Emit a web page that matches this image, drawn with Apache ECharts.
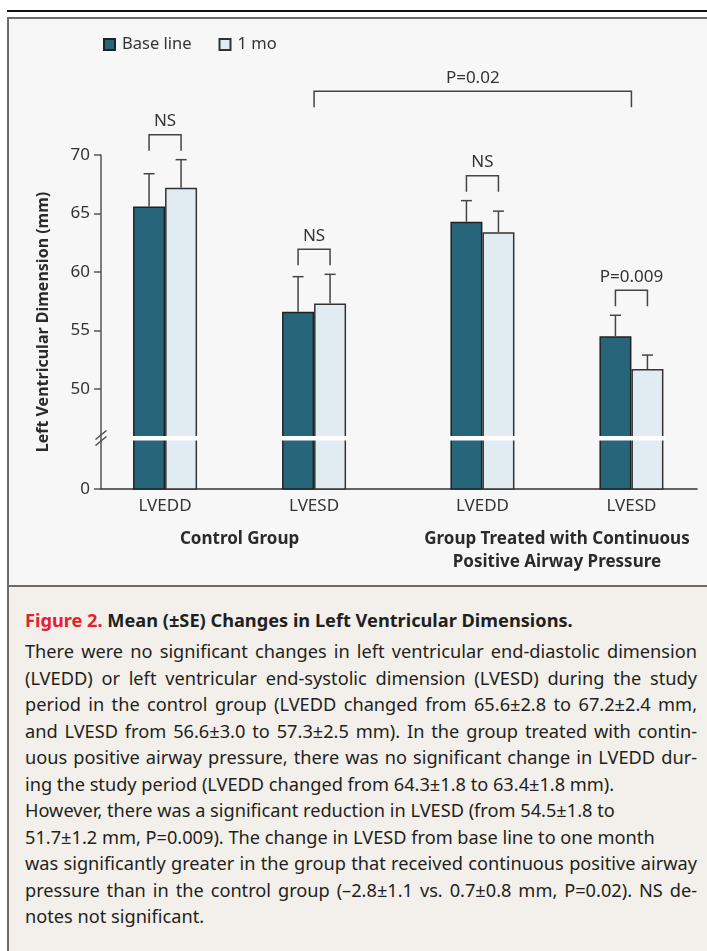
<!DOCTYPE html>
<html>
<head>
<meta charset="utf-8">
<script src="https://cdn.jsdelivr.net/npm/echarts@6/dist/echarts.min.js"></script>
<style>
  html, body { margin: 0; padding: 0; width: 707px; height: 951px; overflow: hidden; background: #ffffff; }
  #topline { position: absolute; left: 7px; top: 10px; width: 700px; height: 1.5px; background: #111; }
  #panel { position: absolute; left: 7px; top: 17px; width: 700px; height: 570px; background: #f7f7f7;
           border-top: 2px solid #6a6a6a; border-left: 2px solid #6a6a6a; border-bottom: 2px solid #6a6a6a; box-sizing: border-box; }
  #capbox { position: absolute; left: 7px; top: 587px; width: 700px; height: 364px; background: #f3efea;
            border-left: 2px solid #6a6a6a; box-sizing: border-box; }
  #chart { position: absolute; left: 0; top: 0; width: 707px; height: 590px; }
  #caption { position: absolute; left: 25px; top: 607px; width: 672px; font-family: 'Noto Sans', sans-serif; color: #231f20; }
  #caption .title { font-weight: bold; font-size: 18.2px; line-height: 26px; height: 31px; white-space: nowrap; }
  #caption .fig { color: #e5202e; }
  #caption .ln { font-size: 18.2px; line-height: 26.5px; height: 26.5px; white-space: nowrap; }
  #caption .j { text-align: justify; text-align-last: justify; }
</style>
</head>
<body>
<div id="topline"></div>
<div id="panel"></div>
<div id="capbox"></div>
<div id="chart"></div>
<div id="caption">
  <div class="title"><span class="fig">Figure 2.</span> Mean (±SE) Changes in Left Ventricular Dimensions.</div>
  <div class="ln j">There were no significant changes in left ventricular end-diastolic dimension</div>
  <div class="ln j">(LVEDD) or left ventricular end-systolic dimension (LVESD) during the study</div>
  <div class="ln j">period in the control group (LVEDD changed from 65.6±2.8 to 67.2±2.4 mm,</div>
  <div class="ln j">and LVESD from 56.6±3.0 to 57.3±2.5 mm). In the group treated with contin-</div>
  <div class="ln j">uous positive airway pressure, there was no significant change in LVEDD dur-</div>
  <div class="ln">ing the study period (LVEDD changed from 64.3±1.8 to 63.4±1.8 mm).</div>
  <div class="ln">However, there was a significant reduction in LVESD (from 54.5±1.8 to</div>
  <div class="ln">51.7±1.2 mm, P=0.009). The change in LVESD from base line to one month</div>
  <div class="ln j">was significantly greater in the group that received continuous positive airway</div>
  <div class="ln j">pressure than in the control group (–2.8±1.1 vs. 0.7±0.8 mm, P=0.02). NS de-</div>
  <div class="ln">notes not significant.</div>
</div>
<script>
// ---------- data ----------
const categories = ['LVEDD', 'LVESD', 'LVEDD', 'LVESD'];
const groupNames = ['Control Group', 'Group Treated with Continuous\nPositive Airway Pressure'];
const seriesNames = ['Base line', '1 mo'];
const baseMean = [65.6, 56.6, 64.3, 54.5];
const baseSE   = [2.8, 3.0, 1.8, 1.8];
const moMean   = [67.2, 57.3, 63.4, 51.7];
const moSE     = [2.4, 2.5, 1.8, 1.2];
const pairLabels = ['NS', 'NS', 'NS', 'P=0.009'];
const yTicks = [50, 55, 60, 65, 70];
const groupCompare = { from: 1, to: 3, label: 'P=0.02', level: 75.45 };

// ---------- layout (axis slots, not data) ----------
const catPos = [0.43, 1.43, 2.56, 3.56];
const groupPos = [0.93, 3.06];
const axisFloor = 41.45;   // bottom of broken axis, labelled "0"
const breakAt = 45.8;      // where the axis break is drawn
const barW = 32;
const darkFill = '#26657a', lightFill = '#e1ebf2', ink = '#444';

// fix caption lines that overflow
document.querySelectorAll('#caption .ln, #caption .title').forEach(el => {
  const over = el.scrollWidth - el.clientWidth;
  if (over > 0) el.style.letterSpacing = (-(over + 1) / el.textContent.length) + 'px';
});

const chart = echarts.init(document.getElementById('chart'), null, { renderer: 'canvas' });

function nearestIdx(arr, v) {
  let b = 0; for (let i = 1; i < arr.length; i++) if (Math.abs(arr[i] - v) < Math.abs(arr[b] - v)) b = i; return b;
}

function errRender(sign) {
  return function (params, api) {
    const x = api.value(0), m = api.value(1), se = api.value(2);
    const p0 = api.coord([x, m]), p1 = api.coord([x, m + se]);
    const cx = p0[0] + sign * barW / 2;
    return { type: 'group', children: [
      { type: 'line', shape: { x1: cx, y1: p0[1], x2: cx, y2: p1[1] }, style: { stroke: ink, lineWidth: 1.5 } },
      { type: 'line', shape: { x1: cx - 5.5, y1: p1[1], x2: cx + 5.5, y2: p1[1] }, style: { stroke: ink, lineWidth: 1.5 } }
    ]};
  };
}

const option = {
  animation: false,
  textStyle: { fontFamily: 'Noto Sans' },
  legend: {
    data: seriesNames, left: 103, top: 36, padding: 0, itemWidth: 11, itemHeight: 11, itemGap: 27, icon: 'rect',
    textStyle: { fontSize: 16.5, color: '#333', fontFamily: 'Noto Sans', padding: [0, 0, 0, 2] }
  },
  grid: { left: 101, right: 10, top: 155, bottom: 590 - 489 },
  xAxis: [
    { type: 'value', min: 0, max: 4, position: 'bottom',
      axisLine: { show: true, lineStyle: { color: '#333', width: 1.5 } },
      axisTick: { show: false }, splitLine: { show: false },
      axisLabel: { customValues: catPos, formatter: v => categories[nearestIdx(catPos, v)],
                   fontSize: 17, color: '#333', margin: 9 } },
    { type: 'value', min: 0, max: 4, position: 'bottom', offset: 31,
      axisLine: { show: false }, axisTick: { show: false }, splitLine: { show: false },
      axisLabel: { customValues: groupPos, formatter: v => groupNames[nearestIdx(groupPos, v)],
                   fontSize: 17, fontWeight: 'bold', color: '#2a2a2a', lineHeight: 23, margin: 8, align: 'center' } }
  ],
  yAxis: {
    type: 'value', min: axisFloor, max: 70,
    name: 'Left Ventricular Dimension (mm)', nameLocation: 'middle', nameGap: 50,
    nameTextStyle: { fontSize: 16, fontWeight: 'bold', color: '#2a2a2a' },
    axisLine: { show: true, lineStyle: { color: '#555', width: 1.5 } },
    axisTick: { show: true, length: 7, customValues: [axisFloor].concat(yTicks), lineStyle: { color: '#555', width: 1.5 } },
    axisLabel: { customValues: [axisFloor].concat(yTicks),
                 formatter: v => (Math.abs(v - axisFloor) < 1e-6 ? '0' : String(v)),
                 fontSize: 17, color: '#333', margin: 11 },
    splitLine: { show: false }
  },
  series: [
    { type: 'bar', name: seriesNames[0], xAxisIndex: 0, barWidth: barW, barGap: '0%',
      data: catPos.map((x, i) => [x, baseMean[i]]),
      itemStyle: { color: darkFill, borderColor: '#1e2326', borderWidth: 1.5 } },
    { type: 'bar', name: seriesNames[1], xAxisIndex: 0, barWidth: barW, barGap: '0%',
      data: catPos.map((x, i) => [x, moMean[i]]),
      itemStyle: { color: lightFill, borderColor: '#333', borderWidth: 1.5 } },
    { type: 'custom', name: 'err-base', xAxisIndex: 0, clip: false, z: 3,
      data: catPos.map((x, i) => [x, baseMean[i], baseSE[i]]), renderItem: errRender(-1) },
    { type: 'custom', name: 'err-mo', xAxisIndex: 0, clip: false, z: 3,
      data: catPos.map((x, i) => [x, moMean[i], moSE[i]]), renderItem: errRender(1) },
    // white break band across each pair of bars
    { type: 'custom', name: 'break-band', xAxisIndex: 0, clip: false, z: 5,
      data: catPos.map(x => [x, breakAt]),
      renderItem: (params, api) => {
        const p = api.coord([api.value(0), api.value(1)]);
        return { type: 'rect', shape: { x: p[0] - barW - 1.5, y: p[1] - 2, width: 2 * barW + 3, height: 4.5 },
                 style: { fill: '#ffffff' } };
      } },
    // axis break marks
    { type: 'custom', name: 'break-mark', xAxisIndex: 0, clip: false, z: 6,
      data: [[0, breakAt]],
      renderItem: (params, api) => {
        const p = api.coord([api.value(0), api.value(1)]);
        const mk = dy => ({ type: 'line', shape: { x1: p[0] - 5.5, y1: p[1] + dy + 4.5, x2: p[0] + 5.5, y2: p[1] + dy - 4.5 },
                            style: { stroke: '#444', lineWidth: 1.3 } });
        return { type: 'group', children: [mk(-3), mk(3)] };
      } },
    // within-pair comparison brackets
    { type: 'custom', name: 'pair-bracket', xAxisIndex: 0, clip: false, z: 3,
      data: catPos.map((x, i) => [x, Math.max(baseMean[i] + baseSE[i], moMean[i] + moSE[i])]),
      renderItem: (params, api) => {
        const p = api.coord([api.value(0), api.value(1)]);
        const xl = p[0] - barW / 2, xr = p[0] + barW / 2;
        const bottom = p[1] - 9, top = bottom - 16;
        return { type: 'group', children: [
          { type: 'polyline', shape: { points: [[xl, bottom], [xl, top], [xr, top], [xr, bottom]] },
            style: { stroke: ink, lineWidth: 1.5, fill: null } },
          { type: 'text', x: p[0], y: top - 5,
            style: { text: pairLabels[params.dataIndex], fill: '#333', font: '17px "Noto Sans"', align: 'center', verticalAlign: 'bottom' } }
        ]};
      } },
    // between-group comparison bracket
    { type: 'custom', name: 'group-bracket', xAxisIndex: 0, clip: false, z: 3,
      encode: { x: [0, 1], y: 2 },
      data: [[catPos[groupCompare.from], catPos[groupCompare.to], groupCompare.level]],
      renderItem: (params, api) => {
        const a = api.coord([api.value(0), api.value(2)]), b = api.coord([api.value(1), api.value(2)]);
        const top = a[1], bottom = top + 16;
        return { type: 'group', children: [
          { type: 'polyline', shape: { points: [[a[0], bottom], [a[0], top], [b[0], top], [b[0], bottom]] },
            style: { stroke: ink, lineWidth: 1.5, fill: null } },
          { type: 'text', x: (a[0] + b[0]) / 2, y: top - 5,
            style: { text: groupCompare.label, fill: '#333', font: '17px "Noto Sans"', align: 'center', verticalAlign: 'bottom' } }
        ]};
      } }
  ]
};
chart.setOption(option);
</script>
</body>
</html>
